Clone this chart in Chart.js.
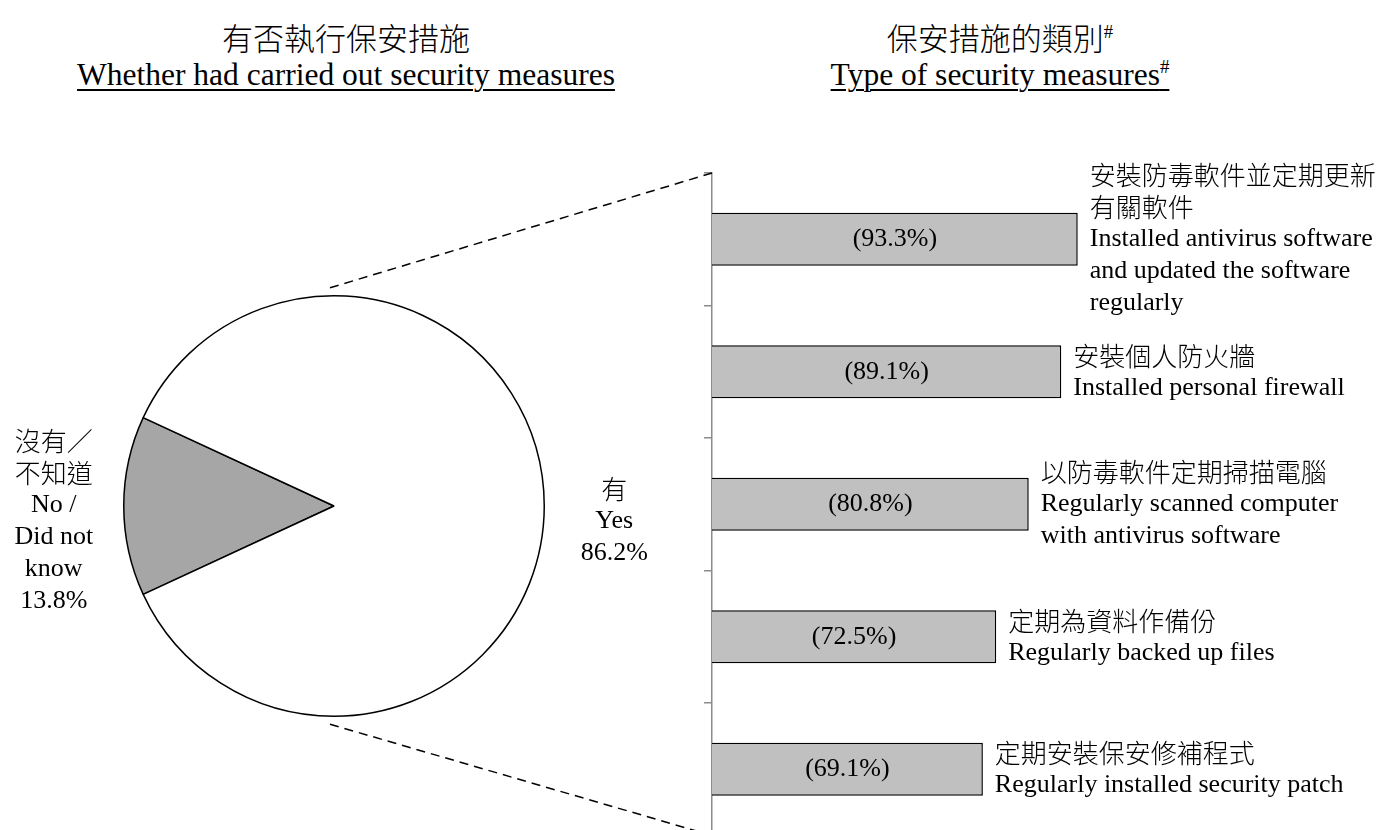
<!DOCTYPE html>
<html>
<head>
<meta charset="utf-8">
<script src="https://cdn.jsdelivr.net/npm/chart.js@4.4.1/dist/chart.umd.min.js"></script>
<style>
  html, body { margin: 0; padding: 0; background: #fff; }
  body { width: 1380px; height: 830px; overflow: hidden; position: relative; }
  .title { position: absolute; width: 700px; text-align: center; white-space: nowrap; color: #000; }
  .zh { font-family: 'Noto Sans CJK TC', sans-serif; font-weight: 300; font-size: 31px; line-height: 40px; top: 17px; }
  .en { font-family: 'Liberation Serif', serif; font-size: 31.5px; line-height: 36px; top: 57px; }
  .en span { text-decoration: underline; text-decoration-thickness: 2px; text-underline-offset: 4px; }
  sup { font-family: 'Liberation Serif', serif; font-size: 60%; line-height: 0; vertical-align: 0.65em; }
  #pie { position: absolute; left: 0; top: 226px; }
  #bar { position: absolute; left: 690px; top: 0; }
  #links { position: absolute; left: 0; top: 0; pointer-events: none; }
</style>
</head>
<body>
<div class="title zh" style="left:-4px">有否執行保安措施</div>
<div class="title en" style="left:-4px"><span>Whether had carried out security measures</span></div>
<div class="title zh" style="left:650px">保安措施的類別<sup>#</sup></div>
<div class="title en" style="left:650px"><span>Type of security measures<sup>#</sup></span></div>

<canvas id="pie" width="668" height="560"></canvas>
<canvas id="bar" width="690" height="850"></canvas>
<canvas id="links" width="1380" height="830"></canvas>

<script>
'use strict';

// pie: whether had carried out security measures
var pieCategories = ['No / Did not know', 'Yes'];
var pieValues = [13.8, 86.2];
var pieLabelLines = [
  ['沒有／', '不知道', 'No /', 'Did not', 'know'],
  ['有', 'Yes']
];

// bars: type of security measures
var measureCategories = ['antivirus', 'firewall', 'scan', 'backup', 'patch'];
var measureValues = [93.3, 89.1, 80.8, 72.5, 69.1];
var measureLabelLines = [
  ['安裝防毒軟件並定期更新', '有關軟件', 'Installed antivirus software', 'and updated the software', 'regularly'],
  ['安裝個人防火牆', 'Installed personal firewall'],
  ['以防毒軟件定期掃描電腦', 'Regularly scanned computer', 'with antivirus software'],
  ['定期為資料作備份', 'Regularly backed up files'],
  ['定期安裝保安修補程式', 'Regularly installed security patch']
];

var cjk = /[\u3000-\u9fff\uff00-\uffef]/;

function fontFor(line) {
  return cjk.test(line) ? "300 26px 'Noto Sans CJK TC'" : "26px 'Liberation Serif'";
}

// draw a block of lines centred vertically on cy
function drawLines(ctx, lines, x, cy, align) {
  var lh = 32;
  var y = cy - (lines.length - 1) * lh / 2;
  ctx.textAlign = align;
  ctx.textBaseline = 'middle';
  for (var i = 0; i < lines.length; i++) {
    ctx.font = fontFor(lines[i]);
    ctx.fillText(lines[i], x, y);
    y += lh;
  }
}

var pieLabelsPlugin = {
  id: 'pieLabels',
  afterDraw: function(chart) {
    var ctx = chart.ctx;
    var arcs = chart.getDatasetMeta(0).data;
    ctx.save();
    ctx.fillStyle = '#000';
    arcs.forEach(function(arc, i) {
      var mid = (arc.startAngle + arc.endAngle) / 2;
      var x = arc.x + Math.cos(mid) * (arc.outerRadius + 70);
      var lines = pieLabelLines[i].concat(pieValues[i].toFixed(1) + '%');
      drawLines(ctx, lines, x, arc.y + 15, 'center');
    });
    ctx.restore();
  }
};

var barLabelsPlugin = {
  id: 'barLabels',
  afterDatasetsDraw: function(chart) {
    var ctx = chart.ctx;
    var bars = chart.getDatasetMeta(0).data;
    ctx.save();
    ctx.fillStyle = '#000';
    bars.forEach(function(bar, i) {
      ctx.font = "26px 'Liberation Serif'";
      ctx.textAlign = 'center';
      ctx.textBaseline = 'middle';
      ctx.fillText('(' + measureValues[i].toFixed(1) + '%)', (bar.base + bar.x) / 2, bar.y);
      drawLines(ctx, measureLabelLines[i], bar.x + 12, bar.y, 'left');
    });
    ctx.restore();
  }
};

var total = pieValues[0] + pieValues[1];

var pieChart = new Chart(document.getElementById('pie'), {
  type: 'pie',
  data: {
    labels: pieCategories,
    datasets: [{
      data: pieValues,
      backgroundColor: ['#a6a6a6', '#ffffff'],
      borderColor: '#000',
      borderWidth: 1.5
    }]
  },
  options: {
    responsive: false,
    animation: false,
    // centre the grey slice on the left side
    rotation: 270 - pieValues[0] / total * 180,
    layout: { padding: 69 },
    plugins: { legend: { display: false }, tooltip: { enabled: false } }
  },
  plugins: [pieLabelsPlugin]
});

var barChart = new Chart(document.getElementById('bar'), {
  type: 'bar',
  data: {
    labels: measureCategories,
    datasets: [{
      data: measureValues,
      backgroundColor: '#c0c0c0',
      borderColor: '#000',
      borderWidth: 1.5,
      barPercentage: 0.4,
      categoryPercentage: 1
    }]
  },
  options: {
    indexAxis: 'y',
    responsive: false,
    animation: false,
    layout: { padding: { left: 14, top: 173, right: 276, bottom: 14.5 } },
    plugins: { legend: { display: false }, tooltip: { enabled: false } },
    scales: {
      x: { display: false, min: 0, max: 100 },
      y: {
        ticks: { display: false },
        grid: { drawOnChartArea: false, drawTicks: true, tickLength: 8, color: '#8c8c8c', lineWidth: 1.5 },
        border: { display: true, color: '#8c8c8c', width: 1.5 },
        afterFit: function(scale) { scale.width = 8; }
      }
    }
  },
  plugins: [barLabelsPlugin]
});

// dashed lines from the pie to the bar axis
function drawLinks() {
  var ctx = document.getElementById('links').getContext('2d');
  var arc = pieChart.getDatasetMeta(0).data[0];
  var pieBox = pieChart.canvas.getBoundingClientRect();
  var barBox = barChart.canvas.getBoundingClientRect();
  var cx = pieBox.left + arc.x;
  var cy = pieBox.top + arc.y;
  var r = arc.outerRadius;
  var ax = barBox.left + barChart.chartArea.left;
  ctx.strokeStyle = '#000';
  ctx.lineWidth = 1.5;
  ctx.setLineDash([9, 6]);
  ctx.beginPath();
  ctx.moveTo(cx - 4, cy - r - 8);
  ctx.lineTo(ax, barBox.top + barChart.chartArea.top);
  ctx.moveTo(cx - 4, cy + r + 8);
  ctx.lineTo(ax, barBox.top + barChart.chartArea.bottom);
  ctx.stroke();
}
drawLinks();
</script>
</body>
</html>
